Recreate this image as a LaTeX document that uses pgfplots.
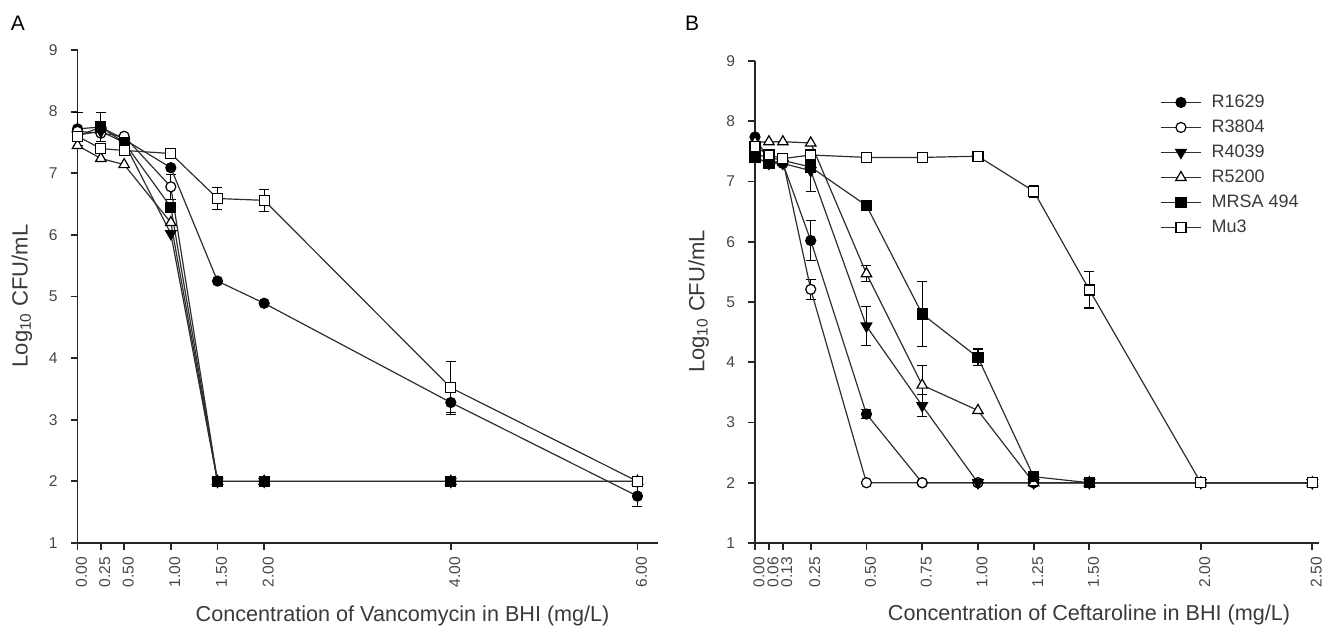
\documentclass[border=0pt]{standalone}
\usepackage{fontspec}
\setmainfont{Liberation Sans}
\usepackage{pgfplots}
\pgfplotsset{compat=1.18}

\definecolor{ticktxt}{HTML}{474747}
\definecolor{labtxt}{HTML}{3A3A3A}
\definecolor{ln}{HTML}{2E2E2E}

\pgfplotsset{
  panel/.style={
    scale only axis,
    axis x line*=bottom, axis y line*=left,
    axis line style={-, line width=0.9pt, black!85},
    every tick/.style={line width=0.9pt, black!85},
    tick align=outside, major tick length=3.5pt,
    ymin=1, ymax=9, ytick={1,2,...,9},
    xmin=0,
    tick label style={font=\fontsize{7.8}{8}\selectfont, text=ticktxt},
    xticklabel style={rotate=90, anchor=east, yshift=-2pt},
    yticklabel style={xshift=-3pt},
    /pgf/number format/assume math mode=true,
    clip=false,
  },
  ser/.style={color=ln, line width=0.6pt, mark options={solid, draw=black, line width=0.6pt}},
  fc/.style={ser, mark=*, mark size=2.5pt, mark options={solid, draw=black, fill=black}},
  oc/.style={ser, mark=*, mark size=2.5pt, mark options={solid, draw=black, fill=white}},
  dt/.style={ser, mark=triangle*, mark size=3pt, mark options={solid, draw=black, fill=black, rotate=180}},
  ut/.style={ser, mark=triangle*, mark size=3pt, mark options={solid, draw=black, fill=white}},
  fs/.style={ser, mark=square*, mark size=2.5pt, mark options={solid, draw=black, fill=black}},
  os/.style={ser, mark=square*, mark size=2.5pt, mark options={solid, draw=black, fill=white}},
  eb/.style={draw=none, mark=none, forget plot,
    error bars/.cd, y dir=both, y explicit,
    error bar style={line width=0.6pt, black},
    error mark=-,
    error mark options={rotate=90, line width=0.6pt, black, mark size=2.5pt}},
}

\begin{document}
\begin{tikzpicture}
\useasboundingbox (0,0) rectangle (665pt,315pt);

% ---------------- panel A : vancomycin
\begin{axis}[panel,
  at={(38.75pt,43.5pt)}, anchor=south west,
  width=290.25pt, height=246.5pt,
  xmax=6.22,
  xtick={0,0.25,0.5,1,1.5,2,4,6},
  xticklabels={0.00,0.25,0.50,1.00,1.50,2.00,4.00,6.00},
]
\addplot[eb] coordinates {
  (0,7.72) +- (0,0.27)
  (0.25,7.75) +- (0,0.23)
  (1,6.78) +- (0,0.2)
  (1.5,6.59) +- (0,0.18)
  (2,6.56) +- (0,0.18)
  (4,3.52) +- (0,0.43)
  (4,3.28) +- (0,0.16)
  (6,1.76) +- (0,0.17)
};
\addplot[fc] coordinates {(0,7.72) (0.25,7.75) (0.5,7.55) (1,7.09) (1.5,5.25) (2,4.89) (4,3.28) (6,1.76)};
\addplot[oc] coordinates {(0,7.68) (0.25,7.65) (0.5,7.6) (1,6.78) (1.5,2) (2,2) (4,2) (6,2)};
\addplot[dt] coordinates {(0,7.62) (0.25,7.68) (0.5,7.5) (1,6.02) (1.5,2) (2,2) (4,2) (6,2)};
\addplot[ut] coordinates {(0,7.45) (0.25,7.24) (0.5,7.14) (1,6.2) (1.5,2) (2,2) (4,2) (6,2)};
\addplot[fs] coordinates {(0,7.6) (0.25,7.75) (0.5,7.5) (1,6.45) (1.5,2) (2,2) (4,2) (6,2)};
\addplot[os] coordinates {(0,7.6) (0.25,7.4) (0.5,7.37) (1,7.32) (1.5,6.59) (2,6.56) (4,3.52) (6,2.0)};
\end{axis}

% ---------------- panel B : ceftaroline
\begin{axis}[panel,
  at={(377.5pt,43.5pt)}, anchor=south west,
  width=282pt, height=241pt,
  xmax=2.53,
  xtick={0,0.0625,0.125,0.25,0.5,0.75,1,1.25,1.5,2,2.5},
  xticklabels={0.00,0.06,0.13,0.25,0.50,0.75,1.00,1.25,1.50,2.00,2.50},
  legend style={at={(0.718,0.936)}, anchor=north west, draw=none, fill=none,
    inner sep=0pt, font=\fontsize{9}{9}\selectfont, text=labtxt,
    row sep=2.3pt, nodes={inner xsep=1pt, inner ysep=1pt, text height=6.6pt, text depth=1.6pt},
    /tikz/every odd column/.append style={column sep=4pt}},
  legend cell align=left,
  legend image code/.code={\draw[mark repeat=2,mark phase=2]
    plot coordinates {(0pt,0pt) (10pt,0pt) (20pt,0pt)};},
]
\addplot[eb] coordinates {
  (0.25,6.02) +- (0,0.33)
  (0.5,3.14) +- (0,0.08)
  (0.25,5.21) +- (0,0.17)
  (0.25,7.18) +- (0,0.35)
  (0.5,4.6) +- (0,0.32)
  (0.75,3.28) +- (0,0.18)
  (0.5,5.47) +- (0,0.13)
  (0.75,3.62) +- (0,0.32)
  (0.5,6.6) +- (0,0.07)
  (0.75,4.8) +- (0,0.54)
  (1,4.08) +- (0,0.14)
  (1.25,6.84) +- (0,0.1)
  (1.5,5.2) +- (0,0.3)
};
\addplot[fc] coordinates {(0,7.74) (0.0625,7.35) (0.125,7.3) (0.25,6.02) (0.5,3.14) (0.75,2) (1,2) (1.25,2) (1.5,2) (2,2) (2.5,2)};
\addlegendentry{R1629}
\addplot[oc] coordinates {(0,7.45) (0.0625,7.4) (0.125,7.35) (0.25,5.21) (0.5,2) (0.75,2) (1,2) (1.25,2) (1.5,2) (2,2) (2.5,2)};
\addlegendentry{R3804}
\addplot[dt] coordinates {(0,7.4) (0.0625,7.3) (0.125,7.3) (0.25,7.18) (0.5,4.6) (0.75,3.28) (1,2) (1.25,2) (1.5,2) (2,2) (2.5,2)};
\addlegendentry{R4039}
\addplot[ut] coordinates {(0,7.65) (0.0625,7.66) (0.125,7.66) (0.25,7.64) (0.5,5.47) (0.75,3.62) (1,3.2) (1.25,2) (1.5,2) (2,2) (2.5,2)};
\addlegendentry{R5200}
\addplot[fs] coordinates {(0,7.4) (0.0625,7.3) (0.125,7.35) (0.25,7.24) (0.5,6.6) (0.75,4.8) (1,4.08) (1.25,2.1) (1.5,2) (2,2) (2.5,2)};
\addlegendentry{MRSA 494}
\addplot[os] coordinates {(0,7.58) (0.0625,7.44) (0.125,7.38) (0.25,7.44) (0.5,7.4) (0.75,7.4) (1,7.42) (1.25,6.84) (1.5,5.2) (2,2) (2.5,2)};
\addlegendentry{Mu3}
\end{axis}

% ---------------- labels
\node[font=\fontsize{10.5}{12}\selectfont] at (9pt,303.5pt) {A};
\node[font=\fontsize{10.5}{12}\selectfont] at (346pt,303.5pt) {B};
\node[rotate=90, font=\fontsize{11}{12}\selectfont, text=labtxt] at (11pt,167pt) {Log\textsubscript{10} CFU/mL};
\node[rotate=90, font=\fontsize{11}{12}\selectfont, text=labtxt] at (349.35pt,164.25pt) {Log\textsubscript{10} CFU/mL};
\node[font=\fontsize{10.8}{12}\selectfont, text=labtxt] at (201.3pt,7pt) {Concentration of Vancomycin in BHI (mg/L)};
\node[font=\fontsize{10.8}{12}\selectfont, text=labtxt] at (544.5pt,7.5pt) {Concentration of Ceftaroline in BHI (mg/L)};
\end{tikzpicture}
\end{document}
